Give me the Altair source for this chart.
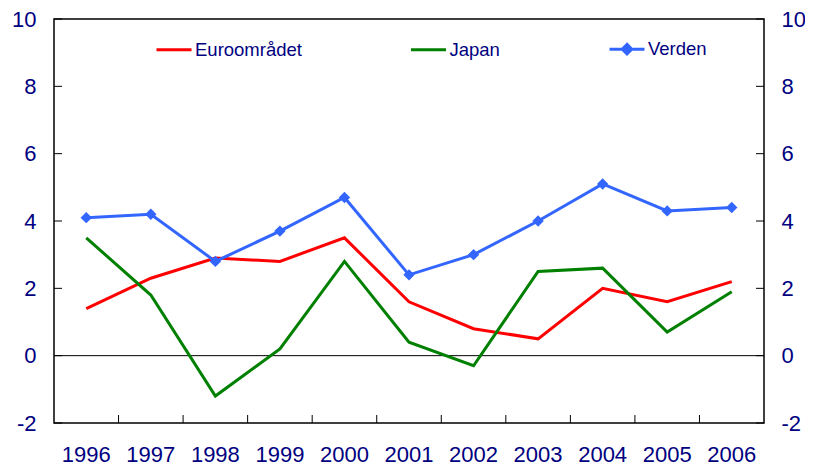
import altair as alt
import pandas as pd

years = ["1996", "1997", "1998", "1999", "2000", "2001", "2002", "2003", "2004", "2005", "2006"]
euro = [1.4, 2.3, 2.9, 2.8, 3.5, 1.6, 0.8, 0.5, 2.0, 1.6, 2.2]
japan = [3.5, 1.8, -1.2, 0.2, 2.8, 0.4, -0.3, 2.5, 2.6, 0.7, 1.9]
verden = [4.1, 4.2, 2.8, 3.7, 4.7, 2.4, 3.0, 4.0, 5.1, 4.3, 4.4]
series_names = ["Euroområdet", "Japan", "Verden"]
series_colors = ["#FF0000", "#008000", "#3366FF"]
y_ticks = [-2, 0, 2, 4, 6, 8, 10]
x_tick_years = years[1:]

FONT = "Liberation Sans"
TEXT = "#000080"

rows = []
for name, vals in zip(series_names, [euro, japan, verden]):
    for yr, v in zip(years, vals):
        rows.append({"year": yr, "series": name, "value": v})
df = pd.DataFrame(rows)
df_verden = df[df["series"] == "Verden"]
df_yt = pd.DataFrame({"v": y_ticks})
df_xt = pd.DataFrame({"year": x_tick_years})
df_zero = pd.DataFrame({"v": [0]})

xscale = alt.Scale(type="band", domain=years, paddingInner=0, paddingOuter=0)
yscale = alt.Scale(domain=[-2, 10], nice=False, zero=False)

x_axis = alt.Axis(title=None, labelAngle=0, labelFont=FONT, labelFontSize=22, labelColor=TEXT,
                  labelPadding=21, ticks=False, tickSize=0, domain=False, grid=False)
y_left = alt.Axis(title=None, values=y_ticks, labelFont=FONT, labelFontSize=22, labelColor=TEXT,
                  labelPadding=18, ticks=False, tickSize=0, domain=False, grid=False, orient="left",
                  labelExpr="'' + datum.value")
y_right = alt.Axis(title=None, values=y_ticks, labelFont=FONT, labelFontSize=22, labelColor=TEXT,
                   labelPadding=17, ticks=False, tickSize=0, domain=False, grid=False, orient="right",
                   labelExpr="'' + datum.value")

legend = alt.Legend(
    title=None, orient="none", direction="horizontal", legendX=101, legendY=11,
    labelFont=FONT, labelFontSize=18.5, labelColor=TEXT, labelOffset=2,
    columnPadding=102.5, symbolSize=1225, symbolStrokeWidth=3,
    symbolType={"expr": "datum.value === 'Verden' ? 'M-1,0L1,0M0,-0.27L0.27,0L0,0.27L-0.27,0Z' : 'stroke'"},
    symbolFillColor={"expr": "datum.value === 'Verden' ? '#3366FF' : 'transparent'"},
)

zero = alt.Chart(df_zero).mark_rule(color="black", strokeWidth=1).encode(
    y=alt.Y("v:Q", scale=yscale, axis=None)
)

ytick_left = alt.Chart(df_yt).mark_rule(color="black", strokeWidth=1).encode(
    y=alt.Y("v:Q", scale=yscale, axis=y_left), x=alt.value(0), x2=alt.value(8)
)
ytick_right = alt.Chart(df_yt).mark_rule(color="black", strokeWidth=1).encode(
    y=alt.Y("v:Q", scale=yscale, axis=y_right), x=alt.value(702), x2=alt.value(710)
)
xtick = alt.Chart(df_xt).mark_rule(color="black", strokeWidth=1).encode(
    x=alt.X("year:O", scale=xscale, bandPosition=0, axis=x_axis), y=alt.value(396), y2=alt.value(404)
)

lines = alt.Chart(df).mark_line(strokeWidth=3).encode(
    x=alt.X("year:O", scale=xscale, bandPosition=0.5, axis=x_axis),
    y=alt.Y("value:Q", scale=yscale, axis=None),
    color=alt.Color("series:N", scale=alt.Scale(domain=series_names, range=series_colors), legend=legend),
    detail="series:N",
)

points = alt.Chart(df_verden).mark_point(shape="diamond", filled=True, size=130, opacity=1).encode(
    x=alt.X("year:O", scale=xscale, bandPosition=0.5, axis=x_axis),
    y=alt.Y("value:Q", scale=yscale, axis=None),
    color=alt.value("#3366FF"),
)

chart = alt.layer(zero, ytick_left, ytick_right, xtick, lines, points).resolve_axis(
    y="independent"
).properties(
    width=710, height=404,
    padding={"left": 46, "top": 11, "right": 41, "bottom": 42},
    autosize=alt.AutoSizeParams(type="none"),
    background="white",
).configure_view(stroke="black", strokeWidth=1.5)

chart.save("out.html", embed_options={"renderer": "svg", "actions": False})
